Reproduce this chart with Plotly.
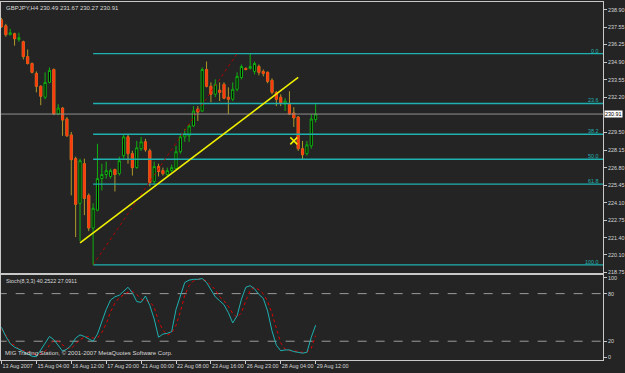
import plotly.graph_objects as go

# ---------------- data ----------------
bars = list(range(73))
opens = [238.14, 237.68, 237.00, 237.07, 236.62, 236.46, 235.32, 234.79, 234.03, 233.04,
         232.20, 233.34, 234.33, 230.91, 231.37, 230.53, 229.31, 227.49, 224.06, 227.10,
         224.67, 222.16, 223.53, 225.96, 226.27, 226.12, 226.65, 226.34, 227.71, 229.16,
         227.87, 226.80, 228.25, 228.78, 228.09, 225.73, 226.88, 226.57, 226.27, 226.57,
         226.72, 228.02, 229.16, 229.24, 230.00, 231.29, 231.14, 234.33, 233.04, 232.43,
         232.74, 233.19, 232.20, 232.05, 232.81, 233.72, 234.41, 234.41, 234.18, 234.56,
         234.18, 234.11, 233.50, 232.58, 232.20, 231.67, 231.67, 230.99, 230.68, 228.25,
         227.87, 228.47, 230.49]
highs = [238.29, 237.83, 237.45, 237.15, 237.15, 236.54, 235.86, 234.87, 234.18, 233.12,
         234.11, 234.49, 234.41, 231.67, 231.44, 230.68, 229.54, 227.64, 227.49, 227.49,
         224.82, 224.06, 228.63, 227.10, 227.26, 226.72, 226.72, 227.64, 229.31, 229.31,
         228.09, 228.85, 229.16, 229.01, 228.25, 227.26, 227.10, 226.80, 226.80, 227.03,
         228.47, 229.31, 229.77, 230.15, 231.52, 231.52, 234.49, 234.94, 233.34, 233.57,
         233.34, 233.34, 232.96, 233.34, 234.11, 234.71, 234.49, 235.55, 234.94, 234.71,
         234.33, 234.18, 233.65, 232.66, 232.43, 232.13, 232.66, 231.44, 230.76, 228.85,
         228.85, 230.91, 231.67]
lows = [237.53, 236.85, 236.96, 236.16, 236.46, 235.10, 234.71, 234.03, 232.58, 231.59,
        232.05, 233.27, 230.83, 230.83, 229.24, 229.16, 224.67, 221.47, 221.17, 223.15,
        221.93, 222.01, 223.45, 225.05, 225.96, 225.96, 224.97, 226.19, 227.49, 227.10,
        226.19, 226.72, 228.09, 228.02, 225.35, 225.51, 226.12, 226.19, 226.12, 226.42,
        226.65, 227.87, 228.78, 228.78, 229.92, 230.38, 231.06, 232.96, 231.82, 232.20,
        231.90, 232.05, 230.91, 231.90, 232.66, 233.57, 234.26, 234.33, 233.95, 233.88,
        233.80, 233.27, 232.43, 231.52, 231.52, 231.14, 230.83, 229.92, 228.09, 227.41,
        227.71, 228.25, 230.27]
closes = [237.61, 237.00, 237.15, 236.69, 236.77, 235.32, 234.79, 234.11, 233.04, 232.28,
          233.34, 234.26, 230.91, 231.37, 230.45, 229.24, 227.41, 223.98, 227.33, 224.44,
          222.16, 223.68, 225.96, 226.27, 226.57, 226.57, 226.27, 227.33, 229.16, 227.87,
          226.80, 228.32, 228.78, 228.17, 225.66, 226.88, 226.50, 226.34, 226.57, 226.80,
          228.02, 229.16, 229.39, 230.00, 231.14, 231.06, 234.33, 233.04, 232.43, 233.19,
          232.58, 232.13, 232.05, 232.81, 233.80, 234.56, 234.33, 234.56, 234.79, 234.11,
          234.03, 233.42, 232.58, 232.05, 231.75, 231.90, 230.91, 230.61, 228.25, 227.79,
          228.55, 230.53, 230.91]

stoch_k = [37.5, 26, 17, 12.5, 10, 7, 3.5, 1, 0.5, 9,
           19, 26, 22, 14, 7.5, 10, 15, 24, 28, 26,
           23.5, 20, 29, 46, 60, 72, 76, 78, 83, 88,
           81, 70, 69, 77, 65, 48, 25, 29, 30, 32,
           60, 78, 94, 97, 98, 98, 99, 94, 85, 76,
           71, 66, 56, 43, 52, 73, 88, 90, 86, 79,
           74, 58, 33, 15, 8, 9, 9, 7, 6, 5,
           6, 25, 40.25]
stoch_d = [35, 28, 18, 15, 10, 8, 7, 5, 3, 4,
           7, 15, 21, 20, 15, 11, 11, 16, 22, 25,
           26, 24, 24, 31, 42, 57, 68, 75, 79, 82,
           83, 79, 73, 71, 70, 63, 45, 34, 28, 30,
           40, 57, 78, 90, 96, 98, 98, 96, 91, 85,
           76, 71, 64, 55, 50, 56, 71, 84, 88, 85,
           80, 70, 55, 35, 18, 10, 8, 8, 7, 6,
           6, 11, 27.09]
stoch_levels = [80, 20]
stoch_ticks = [100, 80, 20, 0]

price_ticks = [238.90, 237.55, 236.25, 234.90, 233.55, 232.20, 229.50, 228.15,
               226.80, 225.45, 224.10, 222.75, 221.40, 220.10, 218.75]
current_price = 230.91

date_bars = [0, 8, 16, 24, 32, 40, 48, 56, 64, 72]
date_labels = ["13 Aug 2007", "15 Aug 04:00", "16 Aug 12:00", "17 Aug 20:00",
               "21 Aug 00:00", "22 Aug 08:00", "23 Aug 16:00", "26 Aug 23:00",
               "28 Aug 04:00", "29 Aug 12:00"]

fib_bars = [21, 54]            # anchor bars of the Fibonacci tool
fib_prices = [219.34, 235.55]  # low / high anchors
fib_ratios = [0.0, 23.6, 38.2, 50.0, 61.8, 100.0]

trend_bars = [18, 68]
trend_prices = [221.02, 233.72]

mark_bar = [67]
mark_price = [228.85]

# ---------------- styling ----------------
BG = "#242424"
TXT = "#d8d8d8"
FIB = "#1fb0b0"
FONT = "Liberation Sans"
FS = 5.4

fig = go.Figure()

# wicks + outlines
fig.add_trace(go.Candlestick(
    x=bars, open=opens, high=highs, low=lows, close=closes,
    increasing=dict(line=dict(color="#10b010", width=1), fillcolor="#000000"),
    decreasing=dict(line=dict(color="#b09a28", width=1), fillcolor="#ff3a10"),
    whiskerwidth=0, xaxis="x", yaxis="y", showlegend=False, hoverinfo="skip"))
# bright red bodies of falling candles on top of their outlines
body_hi = [max(o, c) for o, c in zip(opens, closes)]
body_lo = [min(o, c) for o, c in zip(opens, closes)]
fig.add_trace(go.Candlestick(
    x=bars, open=opens, high=body_hi, low=body_lo, close=closes,
    increasing=dict(line=dict(color="rgba(0,0,0,0)", width=0), fillcolor="rgba(0,0,0,0)"),
    decreasing=dict(line=dict(color="#ff3a10", width=0.4), fillcolor="#ff3a10"),
    whiskerwidth=0, xaxis="x", yaxis="y", showlegend=False, hoverinfo="skip"))

x_end = 140
# Fibonacci levels
hi, lo = fib_prices[1], fib_prices[0]
for r in fib_ratios:
    lvl = hi - (hi - lo) * r / 100.0
    fig.add_trace(go.Scatter(x=[fib_bars[0], x_end], y=[lvl, lvl], mode="lines",
                             line=dict(color=FIB, width=1.4), xaxis="x", yaxis="y",
                             showlegend=False, hoverinfo="skip"))
    fig.add_annotation(x=602 / 625, xref="paper", y=lvl, yref="y", text="%.1f" % r,
                       showarrow=False, xanchor="right", yanchor="bottom",
                       font=dict(family=FONT, size=FS, color=FIB), yshift=-2)

# Fibonacci diagonal and anchor
fig.add_trace(go.Scatter(x=fib_bars, y=fib_prices, mode="lines",
                         line=dict(color="#b00000", width=1, dash="dot"),
                         xaxis="x", yaxis="y", showlegend=False, hoverinfo="skip"))
fig.add_trace(go.Scatter(x=[fib_bars[0], fib_bars[0]], y=[lows[fib_bars[0]], fib_prices[0]],
                         mode="lines", line=dict(color="#10b010", width=1),
                         xaxis="x", yaxis="y", showlegend=False, hoverinfo="skip"))

# current price line
fig.add_trace(go.Scatter(x=[-5, x_end], y=[current_price, current_price], mode="lines",
                         line=dict(color="#909090", width=1), xaxis="x", yaxis="y",
                         showlegend=False, hoverinfo="skip"))

# trendline
fig.add_trace(go.Scatter(x=trend_bars, y=trend_prices, mode="lines",
                         line=dict(color="#f0f000", width=1.6), xaxis="x", yaxis="y",
                         showlegend=False, hoverinfo="skip"))
fig.add_trace(go.Scatter(x=mark_bar, y=mark_price, mode="markers",
                         marker=dict(symbol="x-thin", size=7, line=dict(color="#f0f000", width=1.5)),
                         xaxis="x", yaxis="y", showlegend=False, hoverinfo="skip"))

# stochastic
for lv in stoch_levels:
    fig.add_trace(go.Scatter(x=[-5, x_end], y=[lv, lv], mode="lines",
                             line=dict(color="#9a9a9a", width=1, dash="dash"),
                             xaxis="x2", yaxis="y2", showlegend=False, hoverinfo="skip"))
fig.add_trace(go.Scatter(x=bars, y=stoch_d, mode="lines",
                         line=dict(color="#e00000", width=1, dash="dot"),
                         xaxis="x2", yaxis="y2", showlegend=False, hoverinfo="skip"))
fig.add_trace(go.Scatter(x=bars, y=stoch_k, mode="lines",
                         line=dict(color="#20b0b0", width=1),
                         xaxis="x2", yaxis="y2", showlegend=False, hoverinfo="skip"))

H = 373.0
W = 625.0
xdom = [1 / W, 604 / W]
xr = [-0.11, 137.87]
axis_common = dict(showgrid=False, zeroline=False, showline=True, linecolor="#c8c8c8",
                   linewidth=1, mirror=True)

fig.update_layout(
    width=625, height=373, margin=dict(l=0, r=0, t=0, b=0),
    paper_bgcolor=BG, plot_bgcolor=BG,
    font=dict(family=FONT, size=FS, color=TXT),
    xaxis=dict(domain=xdom, range=xr, anchor="y", showticklabels=False, ticks="",
               rangeslider=dict(visible=False), **axis_common),
    yaxis=dict(domain=[1 - 275 / H, 1 - 2 / H], range=[218.73, 239.51], side="right",
               tickvals=price_ticks, ticktext=["%.2f" % v for v in price_ticks],
               ticks="outside", ticklen=3, tickcolor="#c8c8c8",
               tickfont=dict(family=FONT, size=FS, color=TXT), **axis_common),
    xaxis2=dict(domain=xdom, range=xr, anchor="y2", matches="x",
                tickvals=date_bars, ticktext=date_labels, ticks="outside", ticklen=3,
                tickcolor="#c8c8c8", ticklabelposition="outside right", tickangle=0,
                tickfont=dict(family=FONT, size=FS, color=TXT), **axis_common),
    yaxis2=dict(domain=[1 - 363 / H, 1 - 277 / H], range=[-3.75, 103.75], side="right",
                tickvals=stoch_ticks, ticktext=[str(v) for v in stoch_ticks],
                ticks="outside", ticklen=3, tickcolor="#c8c8c8",
                tickfont=dict(family=FONT, size=FS, color=TXT), **axis_common),
)

fig.add_annotation(x=4 / W, y=1 - 3 / H, xref="paper", yref="paper", xanchor="left", yanchor="top",
                   text="GBPJPY,H4 230.49 231.67 230.27 230.91", showarrow=False,
                   font=dict(family=FONT, size=6, color=TXT))
fig.add_annotation(x=605 / W, y=current_price, xref="paper", yref="y", xanchor="left",
                   yanchor="middle", text="%.2f" % current_price, showarrow=False,
                   bgcolor="#ffffff", borderpad=0, font=dict(family=FONT, size=FS, color="#000000"))
fig.add_annotation(x=4 / W, y=1 - 278 / H, xref="paper", yref="paper", xanchor="left", yanchor="top",
                   text="Stoch(8,3,3) 40.2522 27.0911", showarrow=False,
                   font=dict(family=FONT, size=FS, color=TXT))
fig.add_annotation(x=3 / W, y=1 - 361 / H, xref="paper", yref="paper", xanchor="left", yanchor="bottom",
                   text="MIG Trading Station, © 2001-2007 MetaQuotes Software Corp.", showarrow=False,
                   font=dict(family=FONT, size=6, color=TXT))

fig.write_html("out.html")
